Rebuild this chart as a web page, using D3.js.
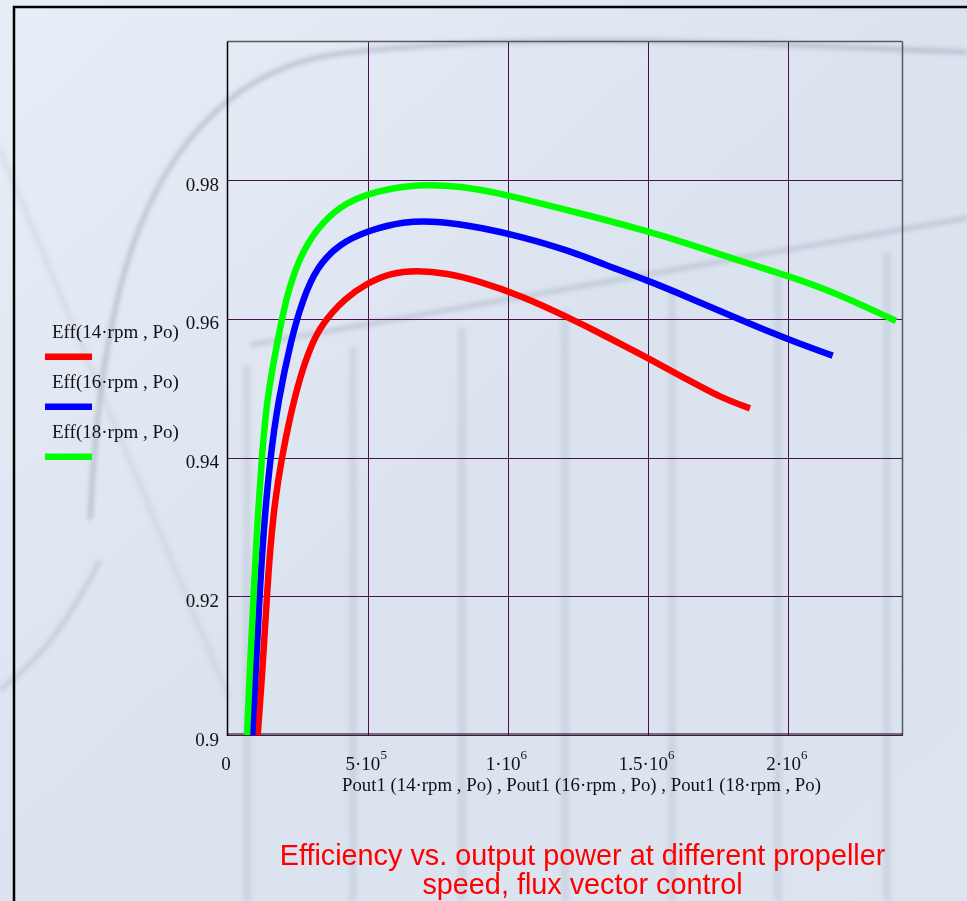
<!DOCTYPE html>
<html>
<head>
<meta charset="utf-8">
<script src="https://cdn.jsdelivr.net/npm/d3@7"></script>
<style>
html,body{margin:0;padding:0;background:#dfe6f1;overflow:hidden;}
svg{display:block;}
</style>
</head>
<body>
<script>
// ---------------- data ----------------
const xTicks = [0, 5e5, 1e6, 1.5e6, 2e6];
const xTickBase = ["0", "5·10", "1·10", "1.5·10", "2·10"];
const xTickExp = ["", "5", "6", "6", "6"];
const yTicks = [0.9, 0.92, 0.94, 0.96, 0.98];
const yTickLabels = ["0.9", "0.92", "0.94", "0.96", "0.98"];

const seriesNames = ["Eff(14·rpm , Po)", "Eff(16·rpm , Po)", "Eff(18·rpm , Po)"];
const seriesColors = ["#ff0000", "#0000ff", "#00ff00"];

// 14 rpm
const pout14 = [107.7e3, 125.5e3, 139.8e3, 151.6e3, 169.4e3, 193.3e3, 222.9e3, 258.5e3, 294.2e3, 335e3, 419e3, 500e3, 579.5e3, 674.7e3, 782e3, 900e3, 1043e3, 1221e3, 1340e3, 1501e3, 1638e3, 1756e3, 1863e3];
const eff14  = [0.9, 0.9098, 0.9195, 0.9267, 0.9339, 0.9399, 0.9459, 0.9516, 0.9558, 0.9592, 0.9630, 0.9652, 0.9666, 0.9670, 0.9666, 0.9654, 0.9634, 0.9601, 0.9577, 0.9543, 0.9513, 0.9487, 0.9471];
// 16 rpm
const pout16 = [88.4e3, 101.6e3, 113.4e3, 127.7e3, 151.6e3, 181.2e3, 226.4e3, 267.5e3, 318e3, 401e3, 500e3, 627e3, 758e3, 912e3, 1043e3, 1221e3, 1340e3, 1501e3, 1638e3, 1816e3, 2000e3, 2158e3];
const eff16  = [0.9, 0.9098, 0.9195, 0.9291, 0.9399, 0.9483, 0.9570, 0.9627, 0.9675, 0.9709, 0.9727, 0.9741, 0.9741, 0.9731, 0.9719, 0.9698, 0.9679, 0.9655, 0.9632, 0.9601, 0.9570, 0.9547];
// 18 rpm
const pout18 = [69.5e3, 80.2e3, 92.0e3, 104.1e3, 122e3, 139.8e3, 175.5e3, 211e3, 258.5e3, 318e3, 401e3, 500e3, 639e3, 782e3, 900e3, 1043e3, 1162e3, 1281e3, 1501e3, 1638e3, 1816e3, 2000e3, 2173e3, 2384e3];
const eff18  = [0.9, 0.9098, 0.9195, 0.9291, 0.9399, 0.9483, 0.9562, 0.9635, 0.9690, 0.9730, 0.9763, 0.9781, 0.9793, 0.9793, 0.9787, 0.9774, 0.9762, 0.9750, 0.9726, 0.9709, 0.9685, 0.9662, 0.9637, 0.9597];

const xTitle = "Pout1 (14·rpm , Po) , Pout1 (16·rpm , Po) , Pout1 (18·rpm , Po)";
const titleLines = ["Efficiency vs. output power at different propeller", "speed, flux vector control"];

// ---------------- layout ----------------
const W = 967, H = 901;
const plot = {left: 227.5, right: 902.5, top: 41.5, bottom: 735};

const svg = d3.select("body").append("svg").attr("width", W).attr("height", H);
const defs = svg.append("defs");
const bg = defs.append("linearGradient").attr("id", "bg").attr("x1", 0).attr("y1", 0).attr("x2", 1).attr("y2", 1);
bg.append("stop").attr("offset", "0%").attr("stop-color", "#e8eef7");
bg.append("stop").attr("offset", "50%").attr("stop-color", "#dbe3ef");
bg.append("stop").attr("offset", "100%").attr("stop-color", "#dce4f0");
defs.append("filter").attr("id", "blur").append("feGaussianBlur").attr("stdDeviation", 2.2);
defs.append("clipPath").attr("id", "clip").append("rect")
  .attr("x", plot.left).attr("y", plot.top)
  .attr("width", plot.right - plot.left).attr("height", plot.bottom - plot.top);

svg.append("rect").attr("width", W).attr("height", H).attr("fill", "url(#bg)");

// faint watermark decoration
const wm = svg.append("g").attr("filter", "url(#blur)").attr("fill", "none").attr("stroke", "#8f9bb0");
wm.append("path").attr("d", "M967,52 C760,44 520,30 330,55 C230,72 160,150 125,270 C105,340 95,420 90,520")
  .attr("stroke-width", 5).attr("opacity", 0.45);
wm.append("path").attr("d", "M0,690 C40,660 70,620 100,560")
  .attr("stroke-width", 5).attr("opacity", 0.3);
wm.append("path").attr("d", "M250,345 L967,218").attr("stroke-width", 5).attr("opacity", 0.35);
wm.append("path").attr("d", "M0,150 L230,700").attr("stroke-width", 6).attr("opacity", 0.14);
[247, 353, 462, 565, 672, 778, 887].forEach((vx, i) => {
  const y0 = 345 - (vx - 250) * 0.177 + 20;
  wm.append("line").attr("x1", vx).attr("x2", vx).attr("y1", y0).attr("y2", H)
    .attr("stroke-width", 8).attr("opacity", 0.2);
});

// outer frame
svg.append("rect").attr("x", 14).attr("y", 7).attr("width", 1200).attr("height", 1200)
  .attr("fill", "none").attr("stroke", "#000").attr("stroke-width", 2.5);

// scales
const x = d3.scaleLinear().domain([0, 2.407e6]).range([plot.left, plot.right]);
const y = d3.scaleLinear().domain([0.9, 1.0]).range([plot.bottom, plot.top]);

// grid
const grid = svg.append("g").attr("stroke", "#4e0f50").attr("stroke-width", 1.2).attr("shape-rendering", "crispEdges");
grid.selectAll("line.v").data(xTicks.slice(1)).join("line")
  .attr("x1", d => Math.round(x(d)) + 0.5).attr("x2", d => Math.round(x(d)) + 0.5)
  .attr("y1", plot.top).attr("y2", plot.bottom);
grid.selectAll("line.h").data(yTicks.concat([0.9])).join("line")
  .attr("y1", d => Math.round(y(d)) + 0.5).attr("y2", d => Math.round(y(d)) + 0.5)
  .attr("x1", plot.left).attr("x2", plot.right);

// plot frame
svg.append("line").attr("x1", plot.left).attr("x2", plot.right).attr("y1", plot.top).attr("y2", plot.top)
  .attr("stroke", "#5a5a5a").attr("stroke-width", 1.5);
svg.append("line").attr("x1", plot.right).attr("x2", plot.right).attr("y1", plot.top).attr("y2", plot.bottom)
  .attr("stroke", "#5a5a5a").attr("stroke-width", 1.5);
svg.append("line").attr("x1", plot.left).attr("x2", plot.left).attr("y1", plot.top).attr("y2", plot.bottom + 1)
  .attr("stroke", "#000").attr("stroke-width", 1.5);
svg.append("line").attr("x1", plot.left).attr("x2", plot.right).attr("y1", plot.bottom - 1).attr("y2", plot.bottom - 1)
  .attr("stroke", "#000").attr("stroke-width", 1.2);

// curves
const series = [
  {px: pout14, ey: eff14},
  {px: pout16, ey: eff16},
  {px: pout18, ey: eff18}
];
const line = d3.line().x(d => x(d[0])).y(d => y(d[1])).curve(d3.curveBasis);
const curves = svg.append("g").attr("clip-path", "url(#clip)");
series.forEach((s, i) => {
  const pts = s.px.map((v, k) => [v, s.ey[k]]);
  curves.append("path").datum(pts).attr("d", line)
    .attr("fill", "none").attr("stroke", seriesColors[i]).attr("stroke-width", 6.5)
    .attr("stroke-linecap", "butt").attr("stroke-linejoin", "round");
});

const serif = "'Liberation Serif', 'Times New Roman', serif";

// y tick labels
svg.append("g").selectAll("text").data(yTicks).join("text")
  .attr("x", 219).attr("y", d => y(d) + 10.5)
  .attr("text-anchor", "end").attr("font-family", serif).attr("font-size", 19).attr("fill", "#111")
  .text((d, i) => yTickLabels[i]);

// x tick labels
const xl = svg.append("g").selectAll("text").data(xTicks).join("text")
  .attr("x", d => x(d) - 1.5).attr("y", 770)
  .attr("text-anchor", "middle").attr("font-family", serif).attr("font-size", 19).attr("fill", "#111");
xl.append("tspan").text((d, i) => xTickBase[i]);
xl.append("tspan").attr("dy", -11).attr("font-size", 13).text((d, i) => xTickExp[i]);

// x axis title
svg.append("text").attr("x", 581.5).attr("y", 790.5).attr("text-anchor", "middle")
  .attr("font-family", serif).attr("font-size", 18.8).attr("fill", "#111").text(xTitle);

// legend
const leg = svg.append("g");
seriesNames.forEach((n, i) => {
  leg.append("text").attr("x", 52).attr("y", 338.3 + i * 49.7)
    .attr("font-family", serif).attr("font-size", 19).attr("fill", "#111").text(n);
  leg.append("line").attr("x1", 45).attr("x2", 92).attr("y1", 356.7 + i * 50).attr("y2", 356.7 + i * 50)
    .attr("stroke", seriesColors[i]).attr("stroke-width", 6.5);
});

// title
svg.append("g").selectAll("text").data(titleLines).join("text")
  .attr("x", 582.5).attr("y", (d, i) => 865 + i * 29)
  .attr("text-anchor", "middle").attr("font-family", "'Liberation Sans', Arial, sans-serif")
  .attr("font-size", 28.8).attr("fill", "#ff0000").text(d => d);
</script>
</body>
</html>
